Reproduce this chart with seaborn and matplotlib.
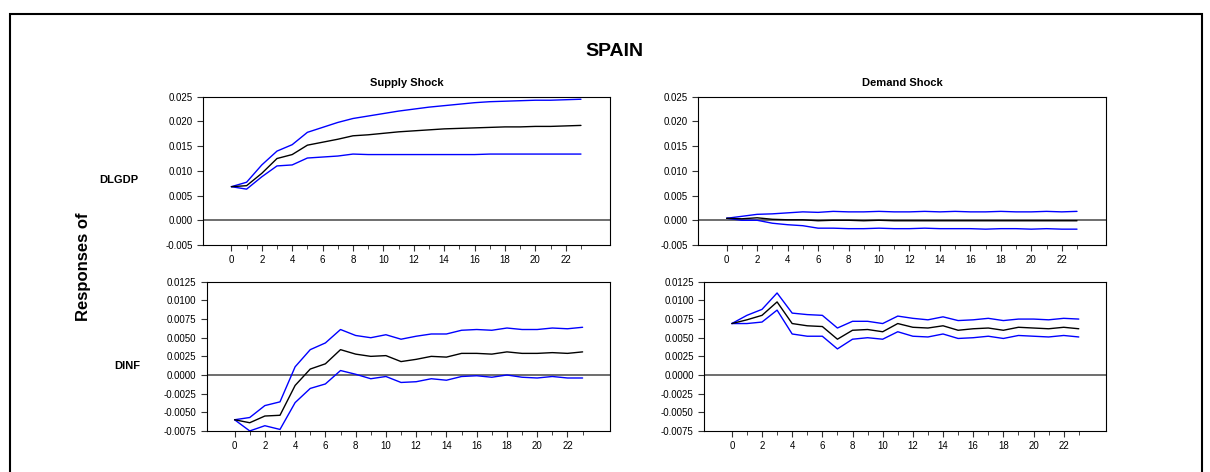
import numpy as np
import matplotlib
matplotlib.use('Agg')
import matplotlib.pyplot as plt
import seaborn as sns
import pandas as pd

sns.set_style('white')
plt.rcParams['font.family'] = ['Liberation Sans', 'DejaVu Sans']
plt.rcParams['text.color'] = 'black'

steps = list(range(24))

gdp_supply = [0.0068, 0.0070, 0.0095, 0.0125, 0.0133, 0.0152, 0.0158, 0.0164, 0.0171, 0.0173, 0.0176, 0.0179,
              0.0181, 0.0183, 0.0185, 0.0186, 0.0187, 0.0188, 0.0189, 0.0189, 0.0190, 0.0190, 0.0191, 0.0192]
gdp_supply_hi = [0.0068, 0.0077, 0.0112, 0.0140, 0.0153, 0.0178, 0.0188, 0.0198, 0.0206, 0.0211, 0.0216, 0.0221,
                 0.0225, 0.0229, 0.0232, 0.0235, 0.0238, 0.0240, 0.0241, 0.0242, 0.0243, 0.0243, 0.0244, 0.0245]
gdp_supply_lo = [0.0068, 0.0063, 0.0088, 0.0110, 0.0112, 0.0126, 0.0128, 0.0130, 0.0134, 0.0133, 0.0133, 0.0133,
                 0.0133, 0.0133, 0.0133, 0.0133, 0.0133, 0.0134, 0.0134, 0.0134, 0.0134, 0.0134, 0.0134, 0.0134]

gdp_demand = [0.0004, 0.0003, 0.0005, 0.0002, 0.0001, 0.0001, -0.0001, 0.0000, 0.0000, -0.0001, 0.0000, -0.0001,
              -0.0001, -0.0001, -0.0001, -0.0001, -0.0001, -0.0001, -0.0001, -0.0001, -0.0001, -0.0001, -0.0001, -0.0001]
gdp_demand_hi = [0.0004, 0.0008, 0.0012, 0.0013, 0.0015, 0.0017, 0.0016, 0.0018, 0.0017, 0.0017, 0.0018, 0.0017,
                 0.0017, 0.0018, 0.0017, 0.0018, 0.0017, 0.0017, 0.0018, 0.0017, 0.0017, 0.0018, 0.0017, 0.0018]
gdp_demand_lo = [0.0004, 0.0000, 0.0000, -0.0006, -0.0009, -0.0011, -0.0016, -0.0016, -0.0017, -0.0017, -0.0016, -0.0017,
                 -0.0017, -0.0016, -0.0017, -0.0017, -0.0017, -0.0018, -0.0017, -0.0017, -0.0018, -0.0017, -0.0018, -0.0018]

inf_supply = [-0.0060, -0.0064, -0.0055, -0.0054, -0.0014, 0.0008, 0.0015, 0.0034, 0.0028, 0.0025, 0.0026, 0.0018,
              0.0021, 0.0025, 0.0024, 0.0029, 0.0029, 0.0028, 0.0031, 0.0029, 0.0029, 0.0030, 0.0029, 0.0031]
inf_supply_hi = [-0.0060, -0.0057, -0.0041, -0.0036, 0.0011, 0.0034, 0.0043, 0.0061, 0.0053, 0.0050, 0.0054, 0.0048,
                 0.0052, 0.0055, 0.0055, 0.0060, 0.0061, 0.0060, 0.0063, 0.0061, 0.0061, 0.0063, 0.0062, 0.0064]
inf_supply_lo = [-0.0060, -0.0075, -0.0068, -0.0073, -0.0037, -0.0018, -0.0012, 0.0006, 0.0001, -0.0005, -0.0002, -0.0010,
                 -0.0009, -0.0005, -0.0007, -0.0002, -0.0001, -0.0003, 0.0000, -0.0003, -0.0004, -0.0002, -0.0004, -0.0004]

inf_demand = [0.0069, 0.0074, 0.0080, 0.0098, 0.0069, 0.0066, 0.0065, 0.0048, 0.0060, 0.0061, 0.0058, 0.0069,
              0.0064, 0.0063, 0.0066, 0.0060, 0.0062, 0.0063, 0.0060, 0.0064, 0.0063, 0.0062, 0.0064, 0.0062]
inf_demand_hi = [0.0069, 0.0080, 0.0088, 0.0110, 0.0083, 0.0081, 0.0080, 0.0063, 0.0072, 0.0072, 0.0069, 0.0079,
                 0.0076, 0.0074, 0.0078, 0.0073, 0.0074, 0.0076, 0.0073, 0.0075, 0.0075, 0.0074, 0.0076, 0.0075]
inf_demand_lo = [0.0069, 0.0069, 0.0071, 0.0087, 0.0055, 0.0052, 0.0052, 0.0035, 0.0048, 0.0050, 0.0048, 0.0058,
                 0.0052, 0.0051, 0.0055, 0.0049, 0.0050, 0.0052, 0.0049, 0.0053, 0.0052, 0.0051, 0.0053, 0.0051]

fig = plt.figure(figsize=(12.1, 4.72), dpi=100)
fig.patches.append(plt.Rectangle((0.008, -0.02), 0.985, 0.99, transform=fig.transFigure,
                                 fill=False, edgecolor='black', linewidth=1.5))

panels = [
    ([0.168, 0.481, 0.336, 0.314], gdp_supply, gdp_supply_hi, gdp_supply_lo, 'Supply Shock', (-0.005, 0.025), 0.005, '%.3f', (-1.85, 24.9)),
    ([0.577, 0.481, 0.337, 0.314], gdp_demand, gdp_demand_hi, gdp_demand_lo, 'Demand Shock', (-0.005, 0.025), 0.005, '%.3f', (-1.87, 24.9)),
    ([0.171, 0.087, 0.333, 0.316], inf_supply, inf_supply_hi, inf_supply_lo, None, (-0.0075, 0.0125), 0.0025, '%.4f', (-1.83, 24.8)),
    ([0.582, 0.087, 0.332, 0.316], inf_demand, inf_demand_hi, inf_demand_lo, None, (-0.0075, 0.0125), 0.0025, '%.4f', (-1.83, 24.8)),
]

for rect, mid, hi, lo, title, ylim, ystep, fmt, xlim in panels:
    ax = fig.add_axes(rect)
    df = pd.DataFrame({'step': steps, 'mid': mid, 'hi': hi, 'lo': lo})
    sns.lineplot(data=df, x='step', y='hi', ax=ax, color='blue', linewidth=1)
    sns.lineplot(data=df, x='step', y='lo', ax=ax, color='blue', linewidth=1)
    sns.lineplot(data=df, x='step', y='mid', ax=ax, color='black', linewidth=1)
    ax.axhline(0, color='#555555', linewidth=1.2, zorder=0)
    ax.set_xlim(*xlim)
    ax.set_ylim(*ylim)
    ax.set_yticks(np.arange(ylim[0], ylim[1] + ystep / 2, ystep))
    ax.yaxis.set_major_formatter(matplotlib.ticker.FormatStrFormatter(fmt))
    ax.set_xticks(range(0, 24, 2))
    ax.set_xticks(range(0, 24), minor=True)
    ax.tick_params(axis='both', labelsize=7, length=4, direction='out', bottom=True, left=True,
                   colors='#333333', labelcolor='black')
    ax.tick_params(axis='x', which='minor', length=3, bottom=True)
    ax.set_xlabel('')
    ax.set_ylabel('')
    for s in ax.spines.values():
        s.set_color('black')
        s.set_linewidth(0.8)
    if title:
        ax.set_title(title, fontsize=8, fontweight='bold', pad=8, color='black')

fig.text(0.508, 0.89, 'SPAIN', ha='center', va='center', fontsize=14, fontweight='bold')
fig.text(0.069, 0.435, 'Responses of', ha='center', va='center', rotation=90, fontsize=12, fontweight='bold')
fig.text(0.098, 0.619, 'DLGDP', ha='center', va='center', fontsize=8, fontweight='bold')
fig.text(0.105, 0.225, 'DINF', ha='center', va='center', fontsize=8, fontweight='bold')

fig.savefig('out.png', dpi=100)
